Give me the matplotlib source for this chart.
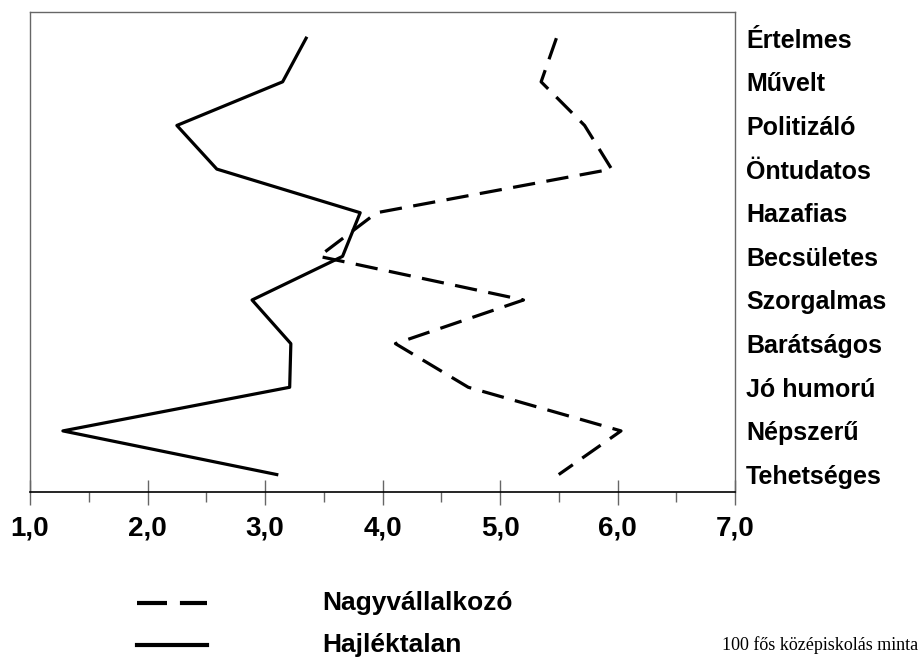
import matplotlib.pyplot as plt
from matplotlib.lines import Line2D
from matplotlib.ticker import MultipleLocator, FixedLocator

# categories top to bottom
categories = ["Értelmes", "Művelt", "Politizáló", "Öntudatos", "Hazafias",
              "Becsületes", "Szorgalmas", "Barátságos", "Jó humorú",
              "Népszerű", "Tehetséges"]
nagyvallalkozo = [5.48, 5.35, 5.72, 5.95, 3.95, 3.46, 5.20, 4.11, 4.73, 6.03, 5.50]
hajlektalan = [3.35, 3.15, 2.25, 2.59, 3.81, 3.66, 2.89, 3.22, 3.21, 1.28, 3.10]
x_ticks = [1, 2, 3, 4, 5, 6, 7]
x_labels = ["1,0", "2,0", "3,0", "4,0", "5,0", "6,0", "7,0"]

sans = ["Liberation Sans", "DejaVu Sans"]

fig = plt.figure(figsize=(9.21, 6.62), dpi=100)
ax = fig.add_axes([30 / 921, 1 - 492 / 662, (735 - 30) / 921, (492 - 12) / 662])

ypos = list(range(len(categories)))
ax.plot(nagyvallalkozo, ypos, color="black", lw=2.3, linestyle=(0, (7, 3.6)))
ax.plot(hajlektalan, ypos, color="black", lw=2.3)

ax.set_xlim(1, 7)
ax.set_ylim(10.4, -0.6)

ax.xaxis.set_major_locator(FixedLocator(x_ticks))
ax.set_xticklabels(x_labels, family=sans, fontweight="bold", fontsize=20)
ax.xaxis.set_minor_locator(MultipleLocator(0.5))
ax.tick_params(axis="x", which="major", direction="inout", length=18, width=1,
               color="#666666", pad=8)
ax.tick_params(axis="x", which="minor", direction="out", length=7, width=1,
               color="#666666")

ax.yaxis.tick_right()
ax.set_yticks(ypos)
ax.set_yticklabels(categories, family=sans, fontweight="bold", fontsize=18)
ax.tick_params(axis="y", length=0, pad=8)

for side in ["top", "left", "right"]:
    ax.spines[side].set_color("#666666")
    ax.spines[side].set_linewidth(1)
ax.spines["bottom"].set_color("black")
ax.spines["bottom"].set_linewidth(1.2)

# legend drawn below the plot
fig.add_artist(Line2D([137 / 921, 207 / 921], [1 - 603 / 662, 1 - 603 / 662],
                      color="black", lw=3, linestyle=(0, (7.2, 3.1))))
fig.add_artist(Line2D([137 / 921, 207 / 921], [1 - 645 / 662, 1 - 645 / 662],
                      color="black", lw=3))
fig.text(322 / 921, 1 - 603 / 662, "Nagyvállalkozó", family=sans,
         fontweight="bold", fontsize=19, va="center", ha="left")
fig.text(322 / 921, 1 - 645 / 662, "Hajléktalan", family=sans,
         fontweight="bold", fontsize=19, va="center", ha="left")
fig.text(722 / 921, 1 - 645 / 662, "100 fős középiskolás minta",
         family=["Liberation Serif", "DejaVu Serif"], fontsize=13,
         va="center", ha="left")

fig.savefig("out.png", dpi=100)
